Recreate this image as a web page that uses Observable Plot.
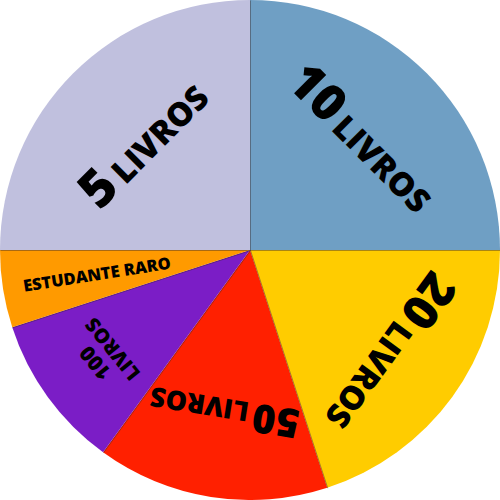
<!DOCTYPE html>
<html>
<head>
<meta charset="utf-8">
<script src="https://cdn.jsdelivr.net/npm/d3@7"></script>
<script src="https://cdn.jsdelivr.net/npm/@observablehq/plot@0.6"></script>
<style>
  html, body { margin: 0; padding: 0; background: #fff; }
  #chart svg { display: block; }
</style>
</head>
<body>
<div id="chart"></div>
<script>
// Data (clockwise from 12 o'clock)
const categories = ["10 LIVROS", "20 LIVROS", "50 LIVROS", "100 LIVROS", "ESTUDANTE RARO", "5 LIVROS"];
const values = [25, 20, 15, 10, 5, 25];
const colors = ["#6f9fc4", "#ffcc00", "#ff2000", "#7b1dc6", "#ff9a00", "#c0c0de"];
// Label text pieces: big number + word, or multi-line
const labelNum = ["10", "20", "50", "100", "", "5"];
const labelWord = ["LIVROS", "LIVROS", "LIVROS", "LIVROS", "ESTUDANTE RARO", "LIVROS"];

// Label layout (styles, not data)
const labelStyle = [
  {r: 0.64, rot: 0, num: 50, word: 33, lines: false},
  {r: 0.70, rot: 0, num: 48, word: 33, lines: false},
  {r: 0.66, rot: 0, num: 40, word: 27, lines: false},
  {r: 0.72, rot: -3, num: 21, word: 20, lines: true},
  {r: 0.62, rot: 90, num: 16.5, word: 16.5, lines: false},
  {r: 0.61, rot: 0, num: 52, word: 33, lines: false}
];

const slices = d3.pie().sort(null).value(d => d.value)(
  categories.map((c, i) => ({category: c, value: values[i], color: colors[i], num: labelNum[i], word: labelWord[i], style: labelStyle[i]}))
);
const boundaries = slices.map(s => ({a: s.startAngle}));

const pieMark = (index, scales) => {
  const cx = scales.x(0), cy = scales.y(0);
  const R = Math.abs(scales.x(1) - scales.x(0));
  const g = d3.create("svg:g").attr("transform", `translate(${cx},${cy})`);
  const arc = d3.arc().innerRadius(0).outerRadius(R);
  g.selectAll("path").data(slices).join("path")
    .attr("d", arc)
    .attr("fill", d => d.data.color);
  return g.node();
};

const labelMark = (index, scales) => {
  const cx = scales.x(0), cy = scales.y(0);
  const R = Math.abs(scales.x(1) - scales.x(0));
  const g = d3.create("svg:g")
    .attr("font-family", "'Open Sans', 'DejaVu Sans', sans-serif")
    .attr("font-weight", 800)
    .attr("fill", "#000")
    .attr("text-anchor", "middle");
  for (const s of slices) {
    const st = s.data.style;
    const mid = (s.startAngle + s.endAngle) / 2;
    const x = cx + st.r * R * Math.sin(mid);
    const y = cy - st.r * R * Math.cos(mid);
    const rot = mid * 180 / Math.PI + st.rot;
    const t = g.append("text")
      .attr("transform", `translate(${x},${y}) rotate(${rot})`)
      .attr("font-size", st.word);
    if (st.lines) {
      t.append("tspan").attr("x", 0).attr("dy", "-0.2em").attr("font-size", st.num).text(s.data.num);
      t.append("tspan").attr("x", 0).attr("dy", "1.1em").text(s.data.word);
    } else if (s.data.num) {
      t.append("tspan").attr("font-size", st.num).attr("dy", "0.36em").text(s.data.num);
      t.append("tspan").attr("dx", "0.18em").attr("dy", 0).text(s.data.word);
    } else {
      t.attr("dy", "0.36em").text(s.data.word);
    }
  }
  return g.node();
};

const chart = Plot.plot({
  width: 500,
  height: 500,
  margin: 0,
  x: {domain: [-1, 1], axis: null},
  y: {domain: [-1, 1], axis: null},
  marks: [
    pieMark,
    Plot.link(boundaries, {
      x1: 0, y1: 0,
      x2: d => Math.sin(d.a), y2: d => Math.cos(d.a),
      stroke: "#3a2a2a", strokeWidth: 0.8, strokeOpacity: 0.55
    }),
    labelMark
  ]
});
document.getElementById("chart").appendChild(chart);
</script>
</body>
</html>
